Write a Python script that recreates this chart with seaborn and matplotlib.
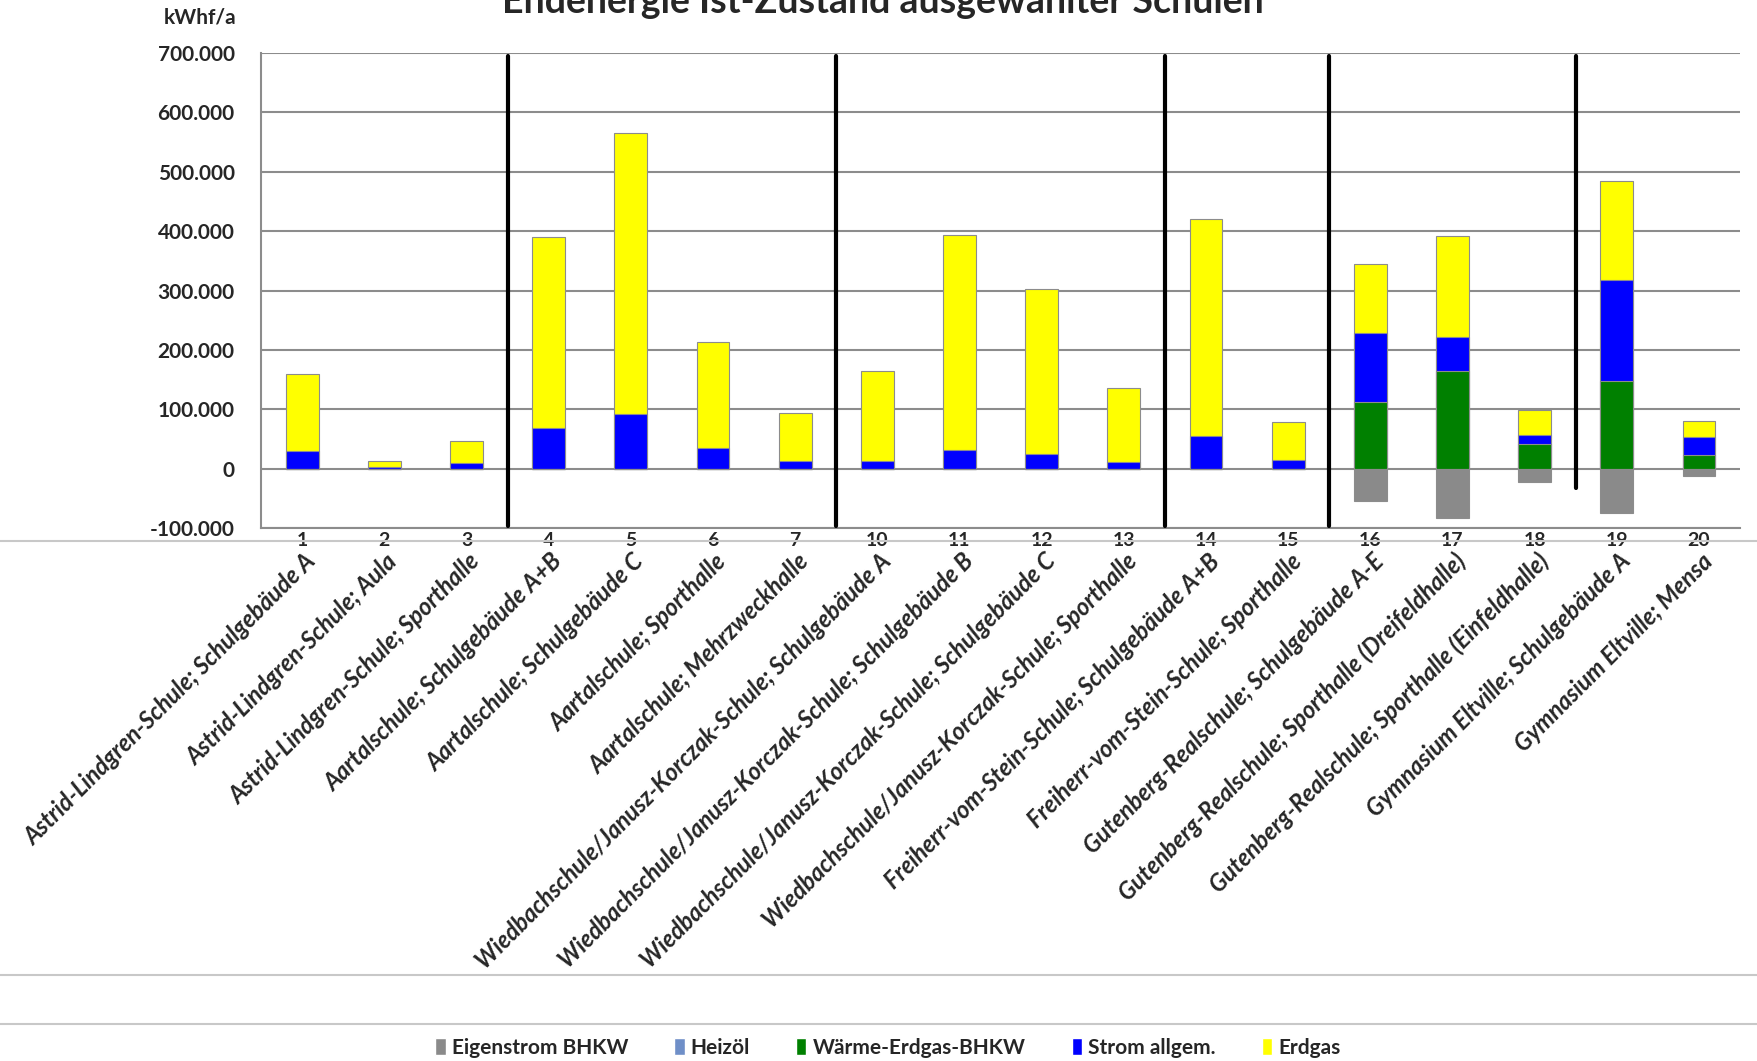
import pandas as pd
import seaborn as sns
import matplotlib.pyplot as plt
from matplotlib.patches import Patch
from matplotlib.lines import Line2D
from matplotlib.ticker import FuncFormatter

# Data (kWhf/a)
numbers = ['1', '2', '3', '4', '5', '6', '7', '10', '11', '12', '13', '14',
           '15', '16', '17', '18', '19', '20']
names = [
    'Astrid-Lindgren-Schule; Schulgebäude A',
    'Astrid-Lindgren-Schule; Aula',
    'Astrid-Lindgren-Schule; Sporthalle',
    'Aartalschule; Schulgebäude A+B',
    'Aartalschule; Schulgebäude C',
    'Aartalschule; Sporthalle',
    'Aartalschule; Mehrzweckhalle',
    'Wiedbachschule/Janusz-Korczak-Schule; Schulgebäude A',
    'Wiedbachschule/Janusz-Korczak-Schule; Schulgebäude B',
    'Wiedbachschule/Janusz-Korczak-Schule; Schulgebäude C',
    'Wiedbachschule/Janusz-Korczak-Schule; Sporthalle',
    'Freiherr-vom-Stein-Schule; Schulgebäude A+B',
    'Freiherr-vom-Stein-Schule; Sporthalle',
    'Gutenberg-Realschule; Schulgebäude A-E',
    'Gutenberg-Realschule; Sporthalle (Dreifeldhalle)',
    'Gutenberg-Realschule; Sporthalle (Einfeldhalle)',
    'Gymnasium Eltville; Schulgebäude A',
    'Gymnasium Eltville; Mensa',
]
eigenstrom = [0, 0, 0, 0, 0, 0, 0, 0, 0, 0, 0, 0, 0,
              -55000, -83000, -23000, -75000, -13000]
heizoel = [0] * 18
waerme_bhkw = [0, 0, 0, 0, 0, 0, 0, 0, 0, 0, 0, 0, 0,
               113000, 164000, 42000, 148000, 23000]
strom = [30000, 2000, 9000, 68000, 92000, 34000, 13000, 13000, 32000, 25000,
         11000, 55000, 15000, 115000, 58000, 14000, 170000, 30000]
erdgas = [130000, 11000, 38000, 322000, 474000, 179000, 81000, 151000, 362000,
          277000, 125000, 366000, 64000, 117000, 170000, 42000, 167000, 27000]
separators = [2.5, 6.5, 10.5, 12.5, 15.5]
sep_bottoms = [-97000, -97000, -97000, -97000, -33000]

colors = {'Eigenstrom BHKW': '#8a8a8a', 'Heizöl': '#6f8fc8',
          'Wärme-Erdgas-BHKW': '#008000', 'Strom allgem.': '#0000ff',
          'Erdgas': '#ffff00'}

df = pd.DataFrame({'nr': numbers, 'eigen': eigenstrom, 'heizoel': heizoel,
                   'waerme': waerme_bhkw, 'strom': strom, 'erdgas': erdgas})
df['cum_waerme'] = df['waerme'] + df['heizoel']
df['cum_strom'] = df['cum_waerme'] + df['strom']
df['cum_erdgas'] = df['cum_strom'] + df['erdgas']

sns.set_style('white')
plt.rcParams['font.family'] = ['Lato', 'DejaVu Sans']

fig = plt.figure(figsize=(17.58, 10.61), dpi=100)
ax = fig.add_axes([0.1485, 0.5024, 0.8413, 0.4476])

layers = [('cum_erdgas', 'Erdgas'), ('cum_strom', 'Strom allgem.'),
          ('cum_waerme', 'Wärme-Erdgas-BHKW'), ('eigen', 'Eigenstrom BHKW')]
for col, name in layers:
    sns.barplot(data=df, x='nr', y=col, order=numbers, color=colors[name],
                saturation=1, width=0.4, edgecolor='#8c8c8c', linewidth=0.8,
                errorbar=None, ax=ax, zorder=3)

ax.set_xlim(-0.5, 17.5)
ax.set_ylim(-100000, 700000)
ax.set_yticks(range(-100000, 700001, 100000))
ax.yaxis.set_major_formatter(FuncFormatter(lambda v, p: f'{int(v):,}'.replace(',', '.')))
ax.yaxis.grid(True, color='#8c8c8c', linewidth=1.5, zorder=0)
ax.set_axisbelow(True)
for s in ['top', 'right']:
    ax.spines[s].set_visible(False)
for s in ['left', 'bottom']:
    ax.spines[s].set_color('#8c8c8c')
    ax.spines[s].set_linewidth(1.5)
ax.tick_params(axis='y', length=7, color='#8c8c8c', width=1.5, labelsize=15, pad=12)
ax.tick_params(axis='x', length=0, labelsize=14, pad=3)
for lbl in ax.get_yticklabels() + ax.get_xticklabels():
    lbl.set_fontweight('bold')
ax.set_xlabel('')
ax.set_ylabel('')

# group separators
for xs, yb in zip(separators, sep_bottoms):
    ax.plot([xs, xs], [yb, 695000], color='black', linewidth=3, zorder=4)

# long category names
for i, name in enumerate(names):
    ax.text(i + 0.02, -0.045, name, transform=ax.get_xaxis_transform(),
            rotation=45, rotation_mode='anchor', ha='right', va='top',
            fontsize=17, fontweight='bold', style='italic')

fig.text(0.502, 1 - 13 / 1061, 'Endenergie Ist-Zustand ausgewählter Schulen',
         ha='center', va='baseline', fontsize=27, fontweight='bold')
fig.text(0.114, 1 - 17 / 1061, 'kWhf/a', ha='center', va='center',
         fontsize=15, fontweight='bold')

# frame lines of the original screenshot
for yy in [541, 975, 1024]:
    fig.add_artist(Line2D([0, 1], [1 - yy / 1061] * 2, color='#c8c8c8',
                          linewidth=1.5, transform=fig.transFigure))

handles = [Patch(facecolor=colors[k], label=k) for k in
           ['Eigenstrom BHKW', 'Heizöl', 'Wärme-Erdgas-BHKW', 'Strom allgem.', 'Erdgas']]
fig.legend(handles=handles, loc='center', bbox_to_anchor=(0.505, 1 - 1048 / 1061),
           ncol=5, frameon=False, handlelength=0.5, handleheight=0.9,
           handletextpad=0.3, columnspacing=2.2,
           prop={'weight': 'bold', 'size': 15})

fig.savefig('out.png', dpi=100)
